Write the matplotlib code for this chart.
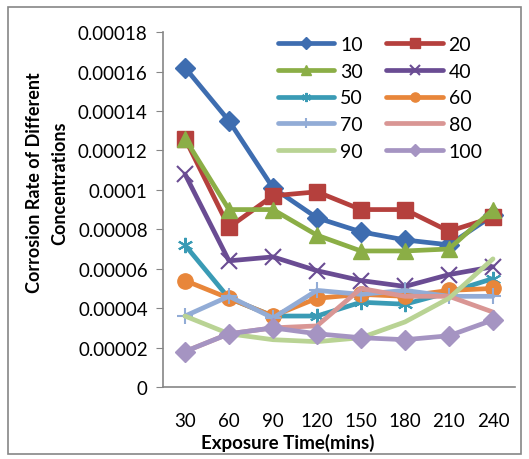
import matplotlib.pyplot as plt
from matplotlib.patches import Rectangle
from matplotlib.ticker import FuncFormatter

plt.rcParams['font.family'] = ['Lato', 'DejaVu Sans']

times = [30, 60, 90, 120, 150, 180, 210, 240]
labels = ['10', '20', '30', '40', '50', '60', '70', '80', '90', '100']

c10 = [0.000162, 0.000135, 0.000101, 0.0000858, 0.0000787, 0.0000746, 0.0000721, 0.000087]
c20 = [0.000126, 0.000081, 0.000097, 0.000099, 0.000090, 0.000090, 0.000079, 0.000086]
c30 = [0.000126, 0.000090, 0.000090, 0.000077, 0.000069, 0.000069, 0.000070, 0.000090]
c40 = [0.000108, 0.000064, 0.000066, 0.000059, 0.000054, 0.000051, 0.000057, 0.000061]
c50 = [0.000072, 0.000045, 0.000036, 0.000036, 0.000043, 0.000042, 0.000048, 0.000055]
c60 = [0.000054, 0.000045, 0.000036, 0.000045, 0.000047, 0.000046, 0.000049, 0.000050]
c70 = [0.000036, 0.000046, 0.000035, 0.000049, 0.000047, 0.000049, 0.000046, 0.000046]
c80 = [0.000018, 0.000027, 0.000030, 0.000031, 0.000050, 0.000046, 0.000046, 0.000038]
c90 = [0.000036, 0.000027, 0.000024, 0.000023, 0.000025, 0.000033, 0.000045, 0.000065]
c100 = [0.000018, 0.000027, 0.000030, 0.000027, 0.000025, 0.000024, 0.000026, 0.000034]

series = [c10, c20, c30, c40, c50, c60, c70, c80, c90, c100]
colors = ['#3E6DB0', '#B5403D', '#8BAE46', '#6A4C93', '#3A9BB5',
          '#E8863A', '#92ACD6', '#D99694', '#B9D394', '#A594C2']
markers = ['D', 's', '^', 'x', (6, 2, 0), 'o', '+', None, None, 'D']
msizes = [10, 12, 11, 11, 11, 11, 12, 0, 0, 10]

fig = plt.figure(figsize=(5.29, 4.60), dpi=100)
ax = fig.add_axes([0.3081, 0.1565, 0.6654, 0.7715])

x = list(range(len(times)))
handles = []
for vals, lab, col, mk, ms in zip(series, labels, colors, markers, msizes):
    h, = ax.plot(x, vals, color=col, lw=3.4, marker=mk, markersize=ms,
                 markeredgewidth=1.5 if mk in ('x', '+', (6, 2, 0)) else 1,
                 markeredgecolor=col, markerfacecolor=col, label=lab,
                 solid_joinstyle='round', solid_capstyle='round')
    handles.append(h)

ax.set_xlim(-0.5, len(times) - 0.5)
ax.set_ylim(0, 0.00018)
ax.set_yticks([i * 0.00002 for i in range(10)])
ax.yaxis.set_major_formatter(FuncFormatter(lambda v, p: '0' if v == 0 else ('%.5f' % v).rstrip('0')))
ax.set_xticks(x)
ax.set_xticklabels([str(t) for t in times])
ax.tick_params(axis='x', length=0, pad=18, labelsize=13.5)
ax.tick_params(axis='y', direction='out', length=5, color='#868686', labelsize=13.5, pad=6)

for s in ['top', 'right']:
    ax.spines[s].set_visible(False)
for s in ['left', 'bottom']:
    ax.spines[s].set_color('#868686')
    ax.spines[s].set_linewidth(1.2)

fig.text(288 / 529, 1 - 443 / 460, 'Exposure Time(mins)', fontsize=13.5,
         fontweight='bold', ha='center', va='center')
fig.text(47 / 529, 1 - 183 / 460, 'Corrosion Rate of Different\nConcentrations',
         fontsize=13, fontweight='bold', rotation=90, linespacing=1.6,
         ha='center', va='center', multialignment='center')

# legend reads row by row: 10 20 / 30 40 / ...
order = [0, 2, 4, 6, 8, 1, 3, 5, 7, 9]
ax.legend([handles[i] for i in order], [labels[i] for i in order],
          loc='upper left', bbox_to_anchor=(278 / 529, 1 - 37 / 460),
          bbox_transform=fig.transFigure, ncol=2, frameon=False, fontsize=14,
          handlelength=2.9, handletextpad=0.3, columnspacing=1.2,
          labelspacing=0.5, borderaxespad=0, borderpad=0, markerscale=0.6)

fig.patches.append(Rectangle((8 / 529, 1 - 455 / 460), 513 / 529, 447 / 460,
                             transform=fig.transFigure, fill=False,
                             edgecolor='#868686', lw=1.2))

fig.savefig('out.png', dpi=100)
